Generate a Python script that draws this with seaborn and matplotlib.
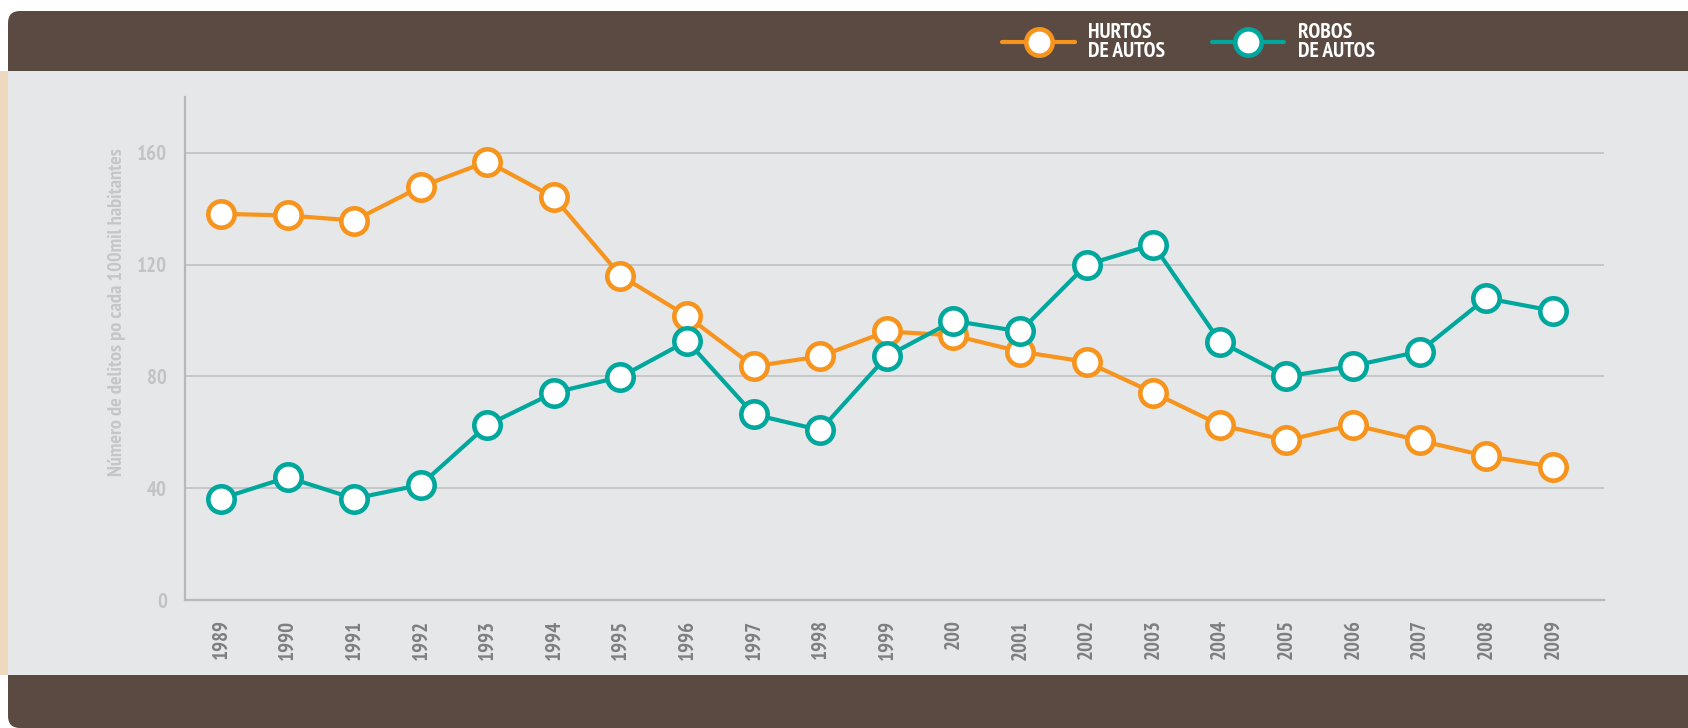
import matplotlib
matplotlib.use("Agg")
import matplotlib.pyplot as plt
import seaborn as sns
import pandas as pd
from matplotlib.patches import FancyBboxPatch, Rectangle
from matplotlib.transforms import IdentityTransform
from matplotlib import font_manager

# ---- data ----
years = list(range(1989, 2010))
year_labels = ["1989", "1990", "1991", "1992", "1993", "1994", "1995", "1996", "1997", "1998",
               "1999", "200", "2001", "2002", "2003", "2004", "2005", "2006", "2007", "2008", "2009"]
hurtos = [138.2, 137.6, 135.8, 147.9, 156.9, 144.1, 116.1, 101.6, 83.6, 87.2,
          96.1, 94.7, 88.9, 85.2, 74.2, 62.7, 57.1, 62.7, 57.1, 51.5, 47.7]
robos = [36.3, 43.9, 36.3, 41.2, 62.6, 74.2, 79.8, 92.7, 66.4, 60.8,
         87.2, 99.9, 96.1, 120.0, 127.2, 92.5, 80.0, 83.8, 88.9, 108.0, 103.5]
series_names = ["HURTOS\nDE AUTOS", "ROBOS\nDE AUTOS"]
y_ticks = [0, 40, 80, 120, 160]
y_label = "Número de delitos po cada 100mil habitantes"

ORANGE = "#F7941D"
TEAL = "#00A79D"
BROWN = "#5B4A42"
PANEL = "#E6E7E8"
BEIGE = "#EED9BE"
GRID = "#BDBEC0"

sns.set_theme(style="white")
available = {f.name for f in font_manager.fontManager.ttflist}
prefs = ["PT Sans Narrow", "Fira Sans Condensed", "Roboto Condensed",
         "Barlow Semi Condensed", "Asap Condensed", "Liberation Sans Narrow"]
narrow = [f for f in prefs if f in available][:1]
plt.rcParams["font.family"] = narrow + ["DejaVu Sans"]

W, H = 1688, 728
fig = plt.figure(figsize=(W / 100, H / 100), dpi=100, facecolor="white")

# background bands (display pixel coordinates, origin bottom-left)
fig.patches.append(FancyBboxPatch((8, 0), 1700, 717, boxstyle="round,pad=0,rounding_size=12",
                                  transform=IdentityTransform(), facecolor=BROWN,
                                  edgecolor="none", zorder=-3, figure=fig))
fig.patches.append(Rectangle((0, 53), W, 604, transform=IdentityTransform(),
                             facecolor=PANEL, edgecolor="none", zorder=-2, figure=fig))
fig.patches.append(Rectangle((0, 53), 8, 604, transform=IdentityTransform(),
                             facecolor=BEIGE, edgecolor="none", zorder=-2, figure=fig))

ax = fig.add_axes([185 / W, (H - 600) / H, (1604 - 185) / W, (600 - 97) / H])
ax.set_facecolor("none")

df = pd.DataFrame({
    "year": years * 2,
    "value": hurtos + robos,
    "serie": [series_names[0]] * len(years) + [series_names[1]] * len(years),
})
sns.lineplot(data=df, x="year", y="value", hue="serie", palette=[ORANGE, TEAL],
             marker="o", markersize=19, linewidth=3.0, ax=ax, legend=False, zorder=3)
for line in ax.lines:
    c = line.get_color()
    line.set_markeredgecolor(c)
    line.set_markerfacecolor("white")
    line.set_markeredgewidth(3.3)
    line.set_clip_on(False)

ax.set_xlim(1988.46, 2009.77)
ax.set_ylim(0, 180)
ax.set_yticks(y_ticks)
ax.set_xticks(years)
ax.set_xticklabels(year_labels, rotation=90, fontsize=15, fontweight="bold", color="#7D7E81")
ax.tick_params(axis="x", length=0, pad=14)
ax.tick_params(axis="y", length=0, pad=13, labelsize=15, labelcolor="#C2C3C5")
for t in ax.get_yticklabels():
    t.set_fontweight("bold")

ax.grid(False)
for v in y_ticks[1:]:
    ax.axhline(v, color=GRID, lw=1.1, zorder=1)

for s in ["top", "right"]:
    ax.spines[s].set_visible(False)
for s in ["left", "bottom"]:
    ax.spines[s].set_color("#B7B8BA")
    ax.spines[s].set_linewidth(1.6)

ax.set_xlabel("")
ax.set_ylabel(y_label, fontsize=14.7, fontweight="bold", color="#C5C6C8")
ax.yaxis.set_label_coords(-0.0416, 0.5726)

handles = ax.lines[:2]
leg = fig.legend(handles, series_names, loc="center left",
                 bbox_to_anchor=(991.5 / W, 1 - 42 / H), ncol=2, frameon=False,
                 borderpad=0, handlelength=3.38, handletextpad=0.62, columnspacing=2.15,
                 prop={"size": 15.5, "weight": "bold"}, labelspacing=0)
for t in leg.get_texts():
    t.set_color("white")
    t.set_linespacing(1.05)

fig.savefig("out.png", dpi=100, facecolor="white")
